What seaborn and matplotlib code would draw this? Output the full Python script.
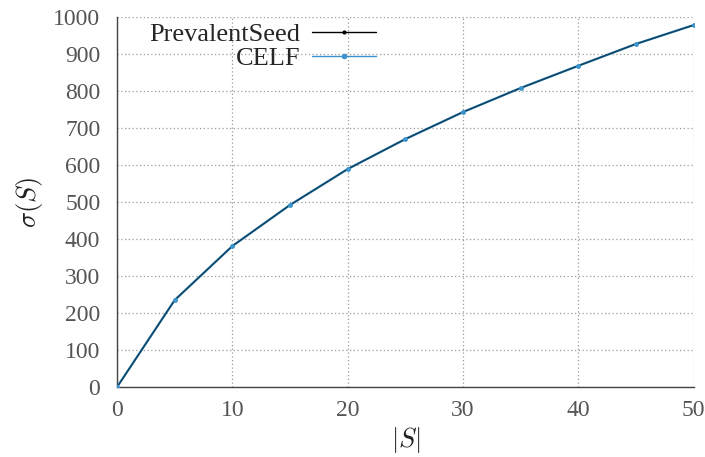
import matplotlib
matplotlib.use("Agg")
import matplotlib.pyplot as plt
import seaborn as sns
import pandas as pd

# seed-set size and estimated spread for the two algorithms
set_size = [0, 5, 10, 15, 20, 25, 30, 35, 40, 45, 50]
prevalent_seed = [0, 235, 381, 492, 589, 670, 743, 808, 868, 927, 978]
celf = [0, 235, 381, 492, 589, 670, 743, 808, 868, 927, 978]

x_ticks = [0, 10, 20, 30, 40, 50]
y_ticks = [0, 100, 200, 300, 400, 500, 600, 700, 800, 900, 1000]

sns.set_theme(style="white")
plt.rcParams["font.family"] = ["Liberation Serif", "DejaVu Serif"]
plt.rcParams["mathtext.fontset"] = "cm"

df = pd.DataFrame({"S": set_size, "PrevalentSeed": prevalent_seed, "CELF": celf})

fig = plt.figure(figsize=(7.05, 4.57), dpi=100)
ax = fig.add_axes([0.166, 0.153, 0.818, 0.810])

blue = "#3b95cc"
sns.lineplot(data=df, x="S", y="CELF", ax=ax, color="#1f6f9f", linewidth=1.6,
             zorder=3)
sns.lineplot(data=df, x="S", y="PrevalentSeed", ax=ax, color="#0b3550", linewidth=0.8,
             alpha=0.8, zorder=4)
ax.plot(df["S"], df["CELF"], linestyle="none", marker="o", markersize=3.5,
        markeredgewidth=0, color=blue, zorder=5)

# legend proxies
h1, = ax.plot([], [], color="black", linewidth=1.0, marker="o", markersize=2.0)
h2, = ax.plot([], [], color=blue, linewidth=1.0, marker="o", markersize=3.0)
leg = ax.legend([h1, h2], ["PrevalentSeed", "CELF"], loc="upper left",
                bbox_to_anchor=(0.038, 1.012), frameon=False, markerfirst=False,
                fontsize=19, handlelength=2.4, handletextpad=0.45,
                labelspacing=0.0, borderaxespad=0.0)
for t in leg.get_texts():
    t.set_ha("right")
leg._legend_box.align = "right"
leg.set_zorder(10)

ax.set_xlim(0, 50)
ax.set_ylim(0, 1000)
ax.set_xticks(x_ticks)
ax.set_yticks(y_ticks)
ax.grid(True, linestyle=(0, (1, 2)), color="#9a9a9a", linewidth=0.9)
ax.set_axisbelow(True)

for side in ["top", "right"]:
    ax.spines[side].set_visible(False)
for side in ["left", "bottom"]:
    ax.spines[side].set_color("#444444")
    ax.spines[side].set_linewidth(1.0)

ax.tick_params(axis="both", direction="in", length=5, width=1.0, color="#444444",
               labelsize=17, labelcolor="#555555")
ax.tick_params(axis="y", pad=12)
ax.tick_params(axis="x", pad=9)

ax.set_xlabel(r"$|S|$", fontsize=19, color="#222222", labelpad=3)
ax.set_ylabel(r"$\sigma(S)$", fontsize=19, color="#222222", labelpad=6)

fig.savefig("out.png", dpi=100)
